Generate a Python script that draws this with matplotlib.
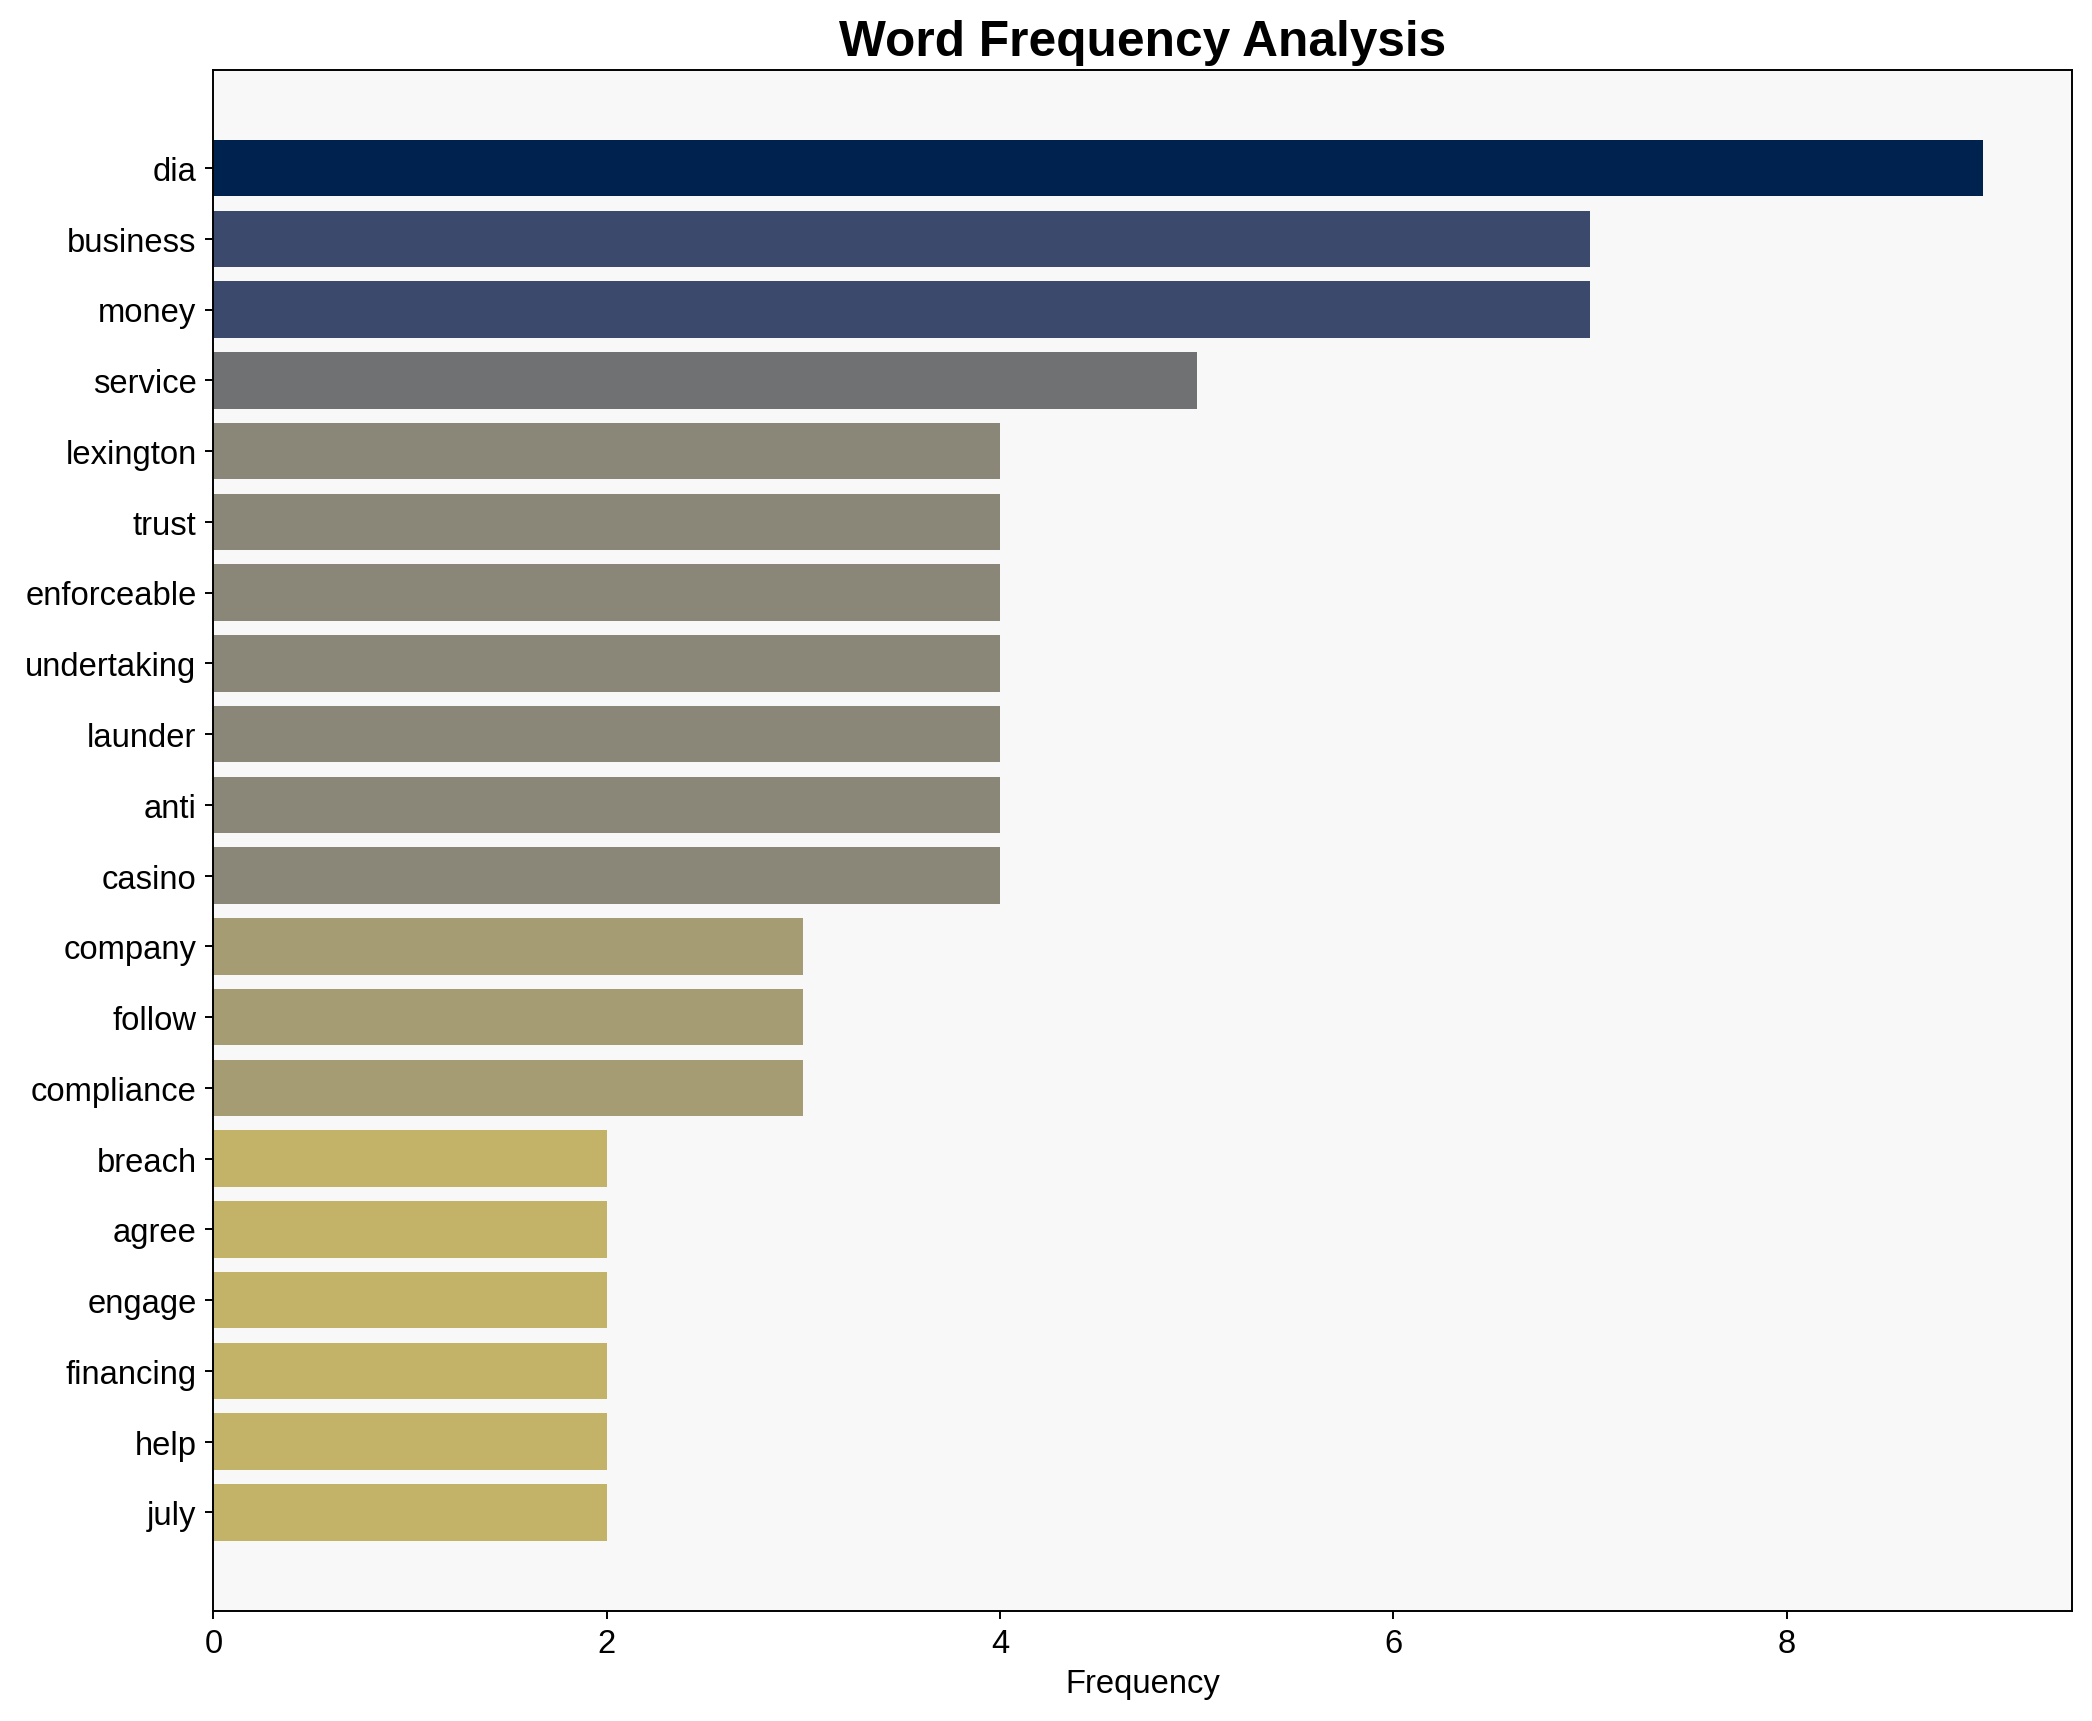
import matplotlib
matplotlib.use('Agg')
import matplotlib.pyplot as plt
import numpy as np

plt.rcParams['font.family'] = ['Liberation Sans', 'DejaVu Sans']

words = ['dia', 'business', 'money', 'service', 'lexington', 'trust',
         'enforceable', 'undertaking', 'launder', 'anti', 'casino',
         'company', 'follow', 'compliance', 'breach', 'agree', 'engage',
         'financing', 'help', 'july']
counts = [9, 7, 7, 5, 4, 4, 4, 4, 4, 4, 4, 3, 3, 3, 2, 2, 2, 2, 2, 2]

fig, ax = plt.subplots(figsize=(12, 9.873), dpi=174.4)

vals = np.array(counts, dtype=float)
colors = plt.cm.cividis(1 - vals / vals.max())

y = np.arange(len(words))
ax.barh(y, counts, color=colors, height=0.8)
ax.set_yticks(y)
ax.set_yticklabels(words, fontsize=13.5)
ax.invert_yaxis()
ax.tick_params(axis='x', labelsize=13.5)

ax.set_facecolor('#f8f8f8')
ax.set_xlabel('Frequency', fontsize=13.5)
ax.set_title('Word Frequency Analysis', fontsize=20.5, fontweight='bold')

plt.subplots_adjust(left=0.102, right=0.990, top=0.959, bottom=0.064)
plt.savefig('out.png', dpi=174.4)
